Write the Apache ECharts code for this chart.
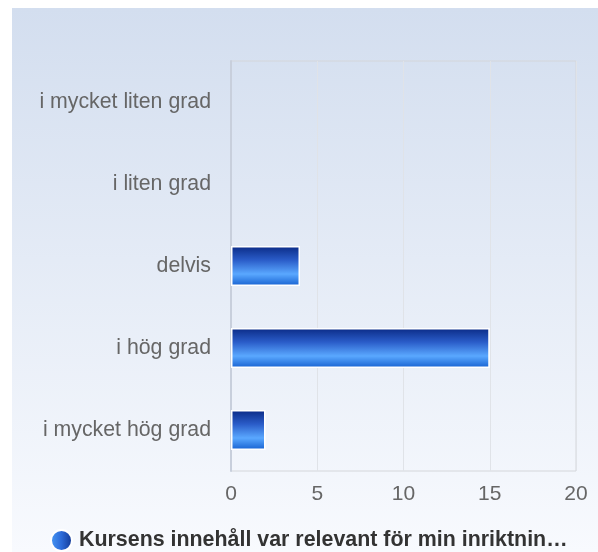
<!DOCTYPE html>
<html><head><meta charset="utf-8">
<script src="https://cdn.jsdelivr.net/npm/echarts@6/dist/echarts.min.js"></script>
<style>html,body{margin:0;padding:0;background:#fff}#c{width:598px;height:552px}</style>
</head><body><div id="c"></div>
<script>
const categories = ['i mycket liten grad', 'i liten grad', 'delvis', 'i hög grad', 'i mycket hög grad'];
const values = [0, 0, 4, 15, 2];
const seriesName = 'Kursens innehåll var relevant för min inriktning';
const legendLabel = 'Kursens innehåll var relevant för min inriktnin…';
const xTicks = [0, 5, 10, 15, 20];

const chart = echarts.init(document.getElementById('c'), null, {renderer: 'canvas'});
const barGrad = new echarts.graphic.LinearGradient(0, 0, 0, 1, [
  {offset: 0, color: '#0a2a85'},
  {offset: 0.35, color: '#2a5cc8'},
  {offset: 0.7, color: '#5aa8ff'},
  {offset: 1, color: '#1560d0'}
]);
const legGrad = new echarts.graphic.LinearGradient(0, 0, 1, 0, [
  {offset: 0, color: '#4a9af5'},
  {offset: 0.5, color: '#2c6ad8'},
  {offset: 1, color: '#10348f'}
]);
chart.setOption({
  animation: false,
  textStyle: {fontFamily: 'Liberation Sans, Arial, sans-serif'},
  graphic: [{
    type: 'rect', z: -10, silent: true,
    shape: {x: 12, y: 8, width: 586, height: 544},
    style: {fill: new echarts.graphic.LinearGradient(0, 0, 0, 1, [
      {offset: 0, color: '#d3deef'},
      {offset: 1, color: '#f8fafe'}
    ])}
  }],
  grid: {left: 231, right: 22, top: 61, bottom: 81, show: true, borderColor: '#d4d6da', borderWidth: 1, backgroundColor: 'transparent'},
  xAxis: {
    type: 'value', min: xTicks[0], max: xTicks[xTicks.length - 1], interval: 5,
    axisLine: {show: false}, axisTick: {show: false},
    splitLine: {show: true, lineStyle: {color: '#e0e3e8', width: 1}},
    axisLabel: {color: '#666', fontSize: 21, margin: 13}
  },
  yAxis: {
    type: 'category', data: categories, inverse: true,
    axisLine: {show: true, lineStyle: {color: '#c8cfdc', width: 2}},
    axisTick: {show: false},
    axisLabel: {color: '#666', fontSize: 21.3, margin: 20}
  },
  legend: {
    bottom: 0, left: 50, padding: 0, icon: 'circle', itemWidth: 21, itemHeight: 21, itemGap: 6,
    data: [{name: seriesName, itemStyle: {color: legGrad}}],
    formatter: () => legendLabel,
    textStyle: {color: '#333', fontSize: 21.4, fontWeight: 'bold', padding: [0, 0, 0, 2]}
  },
  series: [{
    type: 'bar', name: seriesName, barWidth: 40,
    data: values.map(v => v === 0 ? {value: v, itemStyle: {borderWidth: 0}} : v),
    itemStyle: {color: barGrad, borderColor: '#ffffff', borderWidth: 1.5}
  }]
});
</script></body></html>
